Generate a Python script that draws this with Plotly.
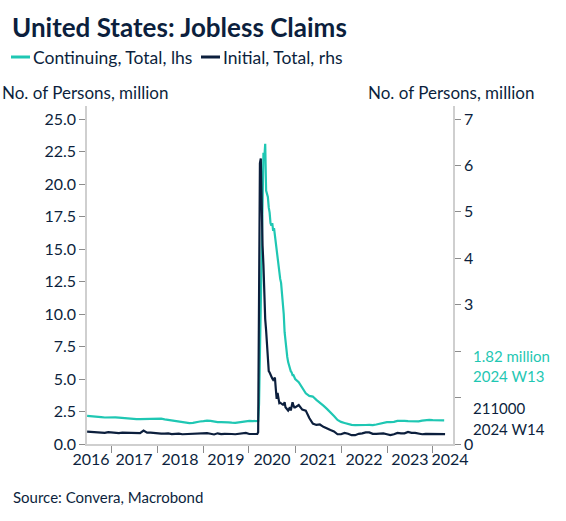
import pandas as pd
import plotly.graph_objects as go

# ---- dates (weekly claims, sampled every 4 weeks outside the 2020 spike) ----
dates_seg1 = pd.date_range("2016-06-25", "2020-02-29", freq="28D")
dates_seg2 = pd.date_range("2020-03-07", "2021-01-02", freq="7D")
dates_seg3 = pd.date_range("2021-01-30", "2024-03-23", freq="28D")
dates_tail = pd.to_datetime(["2024-03-30", "2024-04-06"])
dates = list(dates_seg1) + list(dates_seg2) + list(dates_seg3) + list(dates_tail)

# ---- Continuing claims, millions (lhs) ----
continuing = [
    # 2016-06 .. 2020-02 (every 4 weeks)
    2.16, 2.15, 2.14, 2.10, 2.07, 2.04, 2.05,
    2.08, 2.05, 2.03, 2.00, 1.96, 1.93, 1.94, 1.92, 1.91, 1.92, 1.96, 1.97, 1.95,
    1.97, 1.95, 1.90, 1.86, 1.82, 1.78, 1.74, 1.70, 1.65, 1.60, 1.63, 1.70, 1.73,
    1.76, 1.80, 1.78, 1.72, 1.68, 1.68, 1.70, 1.67, 1.64, 1.62, 1.66, 1.70, 1.75,
    1.78, 1.76, 1.74,
    # 2020-03-07 .. 2021-01-02 (weekly)
    1.75, 1.78, 3.06, 7.45, 12.4, 16.0, 18.0, 22.4, 22.0, 23.1,
    19.5, 19.3, 19.0, 18.2, 17.8, 17.0, 16.8, 17.0, 16.4, 16.6,
    16.0, 15.3, 14.8, 14.3, 13.5, 13.3, 12.7, 12.4, 11.6, 11.0,
    10.0, 8.6, 7.8, 7.2, 6.7, 6.3, 6.0, 5.9, 5.6, 5.5,
    5.3, 5.3, 5.1, 5.0,
    # 2021-01-30 .. 2024-03-23 (every 4 weeks)
    4.75, 4.35, 3.90, 3.70, 3.65, 3.40, 3.20, 2.95, 2.70, 2.45, 2.15, 1.85,
    1.70, 1.62, 1.52, 1.47, 1.45, 1.44, 1.45, 1.46, 1.47, 1.45, 1.50, 1.56, 1.64, 1.68,
    1.68, 1.70, 1.78, 1.80, 1.78, 1.76, 1.74, 1.75, 1.74, 1.80, 1.84, 1.86, 1.84,
    1.85, 1.84, 1.83,
    # 2024 W13, W14
    1.82, None,
]

# ---- Initial claims, millions (rhs) ----
initial = [
    # 2016-06 .. 2020-02 (every 4 weeks)
    0.265, 0.262, 0.258, 0.255, 0.250, 0.240, 0.255,
    0.245, 0.240, 0.235, 0.245, 0.240, 0.245, 0.245, 0.240, 0.235, 0.290, 0.245, 0.245, 0.235,
    0.240, 0.225, 0.225, 0.230, 0.215, 0.225, 0.225, 0.210, 0.215, 0.205, 0.210, 0.220, 0.225,
    0.225, 0.235, 0.220, 0.205, 0.230, 0.215, 0.220, 0.210, 0.215, 0.210, 0.215, 0.220, 0.240,
    0.215, 0.210, 0.215,
    # 2020-03-07 .. 2021-01-02 (weekly)
    0.215, 0.255, 2.90, 6.05, 6.15, 4.95, 4.27, 3.85, 3.17, 2.69,
    2.45, 2.12, 1.90, 1.57, 1.54, 1.48, 1.44, 1.41, 1.38, 1.42,
    1.43, 1.19, 0.97, 1.10, 1.01, 0.88, 0.89, 0.87, 0.87, 0.85,
    0.85, 0.90, 0.79, 0.76, 0.75, 0.72, 0.75, 0.79, 0.72, 0.85,
    0.90, 0.83, 0.79, 0.79,
    # 2021-01-30 .. 2024-03-23 (every 4 weeks)
    0.84, 0.74, 0.72, 0.56, 0.44, 0.41, 0.42, 0.37, 0.33, 0.30, 0.27, 0.21,
    0.21, 0.24, 0.22, 0.19, 0.19, 0.22, 0.23, 0.25, 0.25, 0.22, 0.22, 0.22, 0.23, 0.21,
    0.19, 0.21, 0.24, 0.23, 0.23, 0.26, 0.24, 0.24, 0.22, 0.21, 0.22, 0.22, 0.21,
    0.22, 0.21, 0.21,
    # 2024 W13, W14
    0.22, 0.211,
]

assert len(dates) == len(continuing) == len(initial)

series_names = ["Continuing, Total, lhs", "Initial, Total, rhs"]
year_labels = ["2016", "2017", "2018", "2019", "2020", "2021", "2022", "2023", "2024"]
year_label_pos = ["2016-07-26", "2017-07-02", "2018-07-02", "2019-07-02", "2020-07-02",
                  "2021-07-02", "2022-07-02", "2023-07-02", "2024-05-15"]
year_starts = ["2017-01-01", "2018-01-01", "2019-01-01", "2020-01-01",
               "2021-01-01", "2022-01-01", "2023-01-01", "2024-01-01"]
lhs_ticks = [0, 2.5, 5, 7.5, 10, 12.5, 15, 17.5, 20, 22.5, 25]
rhs_ticks = [0, 1, 2, 3, 4, 5, 6, 7]
rhs_text = ["0", "", "", "3", "4", "5", "6", "7"]

TEAL = "#1fc7b3"
NAVY = "#0c1f3d"
FONT = "Lato"

W, H = 566, 521
ML, MR, MT, MB = 87, 113, 106, 77
PW, PH = W - ML - MR, H - MT - MB


def px_x(px):
    return (px - ML) / PW


def px_y(py):
    return (H - MB - py) / PH


fig = go.Figure()
fig.add_trace(go.Scatter(x=dates, y=continuing, name=series_names[0],
                         mode="lines", line=dict(color=TEAL, width=2.2), yaxis="y"))
fig.add_trace(go.Scatter(x=dates, y=initial, name=series_names[1],
                         mode="lines", line=dict(color=NAVY, width=2.2), yaxis="y2"))

axis_common = dict(showgrid=False, zeroline=False, showline=True, linecolor="#cfcfcf",
                   linewidth=1.5, ticks="outside", tickcolor="#8c8c8c", ticklen=6,
                   tickfont=dict(family=FONT, size=16, color=NAVY))

fig.update_layout(
    width=W, height=H,
    margin=dict(l=ML, r=MR, t=MT, b=MB, autoexpand=False),
    paper_bgcolor="white", plot_bgcolor="white",
    font=dict(family=FONT, color=NAVY),
    title=dict(text="<b>United States: Jobless Claims</b>", xref="container", yref="container",
               x=12 / W, y=1 - 28 / H, xanchor="left", yanchor="middle",
               font=dict(family=FONT, size=26, color=NAVY), automargin=False),
    showlegend=False,
    xaxis=dict(type="date", range=["2016-06-24", "2024-06-08"],
               tickmode="array", tickvals=year_label_pos, ticktext=year_labels,
               ticklen=0, ticks="",
               showgrid=False, zeroline=False, showline=True, linecolor="#cfcfcf",
               linewidth=1.5, tickfont=dict(family=FONT, size=16, color=NAVY),
               minor=dict(tickmode="array", tickvals=year_starts, ticks="outside",
                          ticklen=7, tickcolor="#8c8c8c", showgrid=False)),
    yaxis=dict(range=[0, 26], tickmode="array", tickvals=lhs_ticks, tickformat=".1f",
               **axis_common),
    yaxis2=dict(range=[0, 7.28], overlaying="y", side="right", anchor="x",
                tickmode="array", tickvals=rhs_ticks, ticktext=rhs_text,
                **axis_common),
)

ann_font = dict(family=FONT, size=15)
annotations = [
    # legend texts
    dict(text=series_names[0], x=px_x(31), y=px_y(57), font=dict(family=FONT, size=17.5, color=NAVY)),
    dict(text=series_names[1], x=px_x(221), y=px_y(57), font=dict(family=FONT, size=17.5, color=NAVY)),
    # axis titles
    dict(text="No. of Persons, million", x=px_x(0), y=px_y(93), font=dict(family=FONT, size=17, color=NAVY)),
    dict(text="No. of Persons, million", x=px_x(366), y=px_y(93), font=dict(family=FONT, size=17, color=NAVY)),
    # last-value labels
    dict(text="1.82 million", x=px_x(471), y=px_y(356), font=dict(ann_font, color=TEAL)),
    dict(text="2024 W13", x=px_x(471), y=px_y(376), font=dict(ann_font, color=TEAL)),
    dict(text="211000", x=px_x(471), y=px_y(408), font=dict(ann_font, color=NAVY)),
    dict(text="2024 W14", x=px_x(471), y=px_y(429), font=dict(ann_font, color=NAVY)),
    # source
    dict(text="Source: Convera, Macrobond", x=px_x(11), y=px_y(497),
         font=dict(family=FONT, size=15, color=NAVY)),
]
for a in annotations:
    a.update(xref="paper", yref="paper", showarrow=False, xanchor="left", yanchor="middle")
fig.update_layout(annotations=annotations)

# legend line symbols
fig.update_layout(shapes=[
    dict(type="line", xref="paper", yref="paper", x0=px_x(11), x1=px_x(30), y0=px_y(57), y1=px_y(57),
         line=dict(color=TEAL, width=3)),
    dict(type="line", xref="paper", yref="paper", x0=px_x(201), x1=px_x(220), y0=px_y(57), y1=px_y(57),
         line=dict(color=NAVY, width=3)),
])

fig.write_html("out.html", config={"displayModeBar": False},
               post_script="document.body.style.margin='0px';")
